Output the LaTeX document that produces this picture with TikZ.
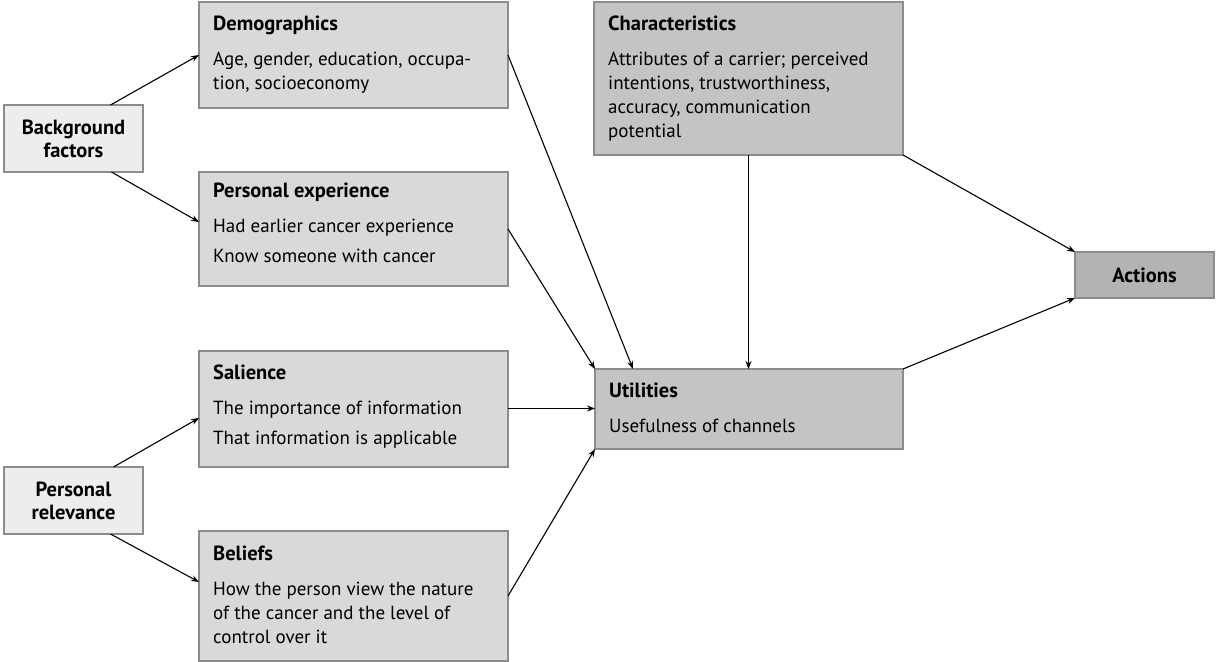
\documentclass[tikz,border=0pt]{standalone}
\usepackage{fontspec}
\setmainfont{PT Sans}
\usetikzlibrary{arrows.meta,calc}
\definecolor{boxlight}{HTML}{EDEDED}
\definecolor{boxmid}{HTML}{D9D9D9}
\definecolor{boxdark}{HTML}{C4C4C4}
\definecolor{boxdarker}{HTML}{B3B3B3}
\definecolor{edgegray}{HTML}{8C8C8C}
\tikzset{
  box/.style={draw=edgegray, line width=1.1bp, anchor=north west, inner sep=0pt, outer sep=0pt},
  txt/.style={anchor=north west, align=left, inner sep=0pt, font=\fontsize{19bp}{24bp}\selectfont},
  ctxt/.style={align=center, inner sep=0pt, font=\fontsize{20.5bp}{23bp}\selectfont\bfseries},
  arr/.style={line width=1.1bp, -{Stealth[length=8bp,width=6bp]}}
}
\newcommand{\ttl}[1]{\rule{0pt}{20bp}{\fontsize{20.5bp}{24bp}\selectfont\textbf{#1}}}
\begin{document}
\begin{tikzpicture}[x=1bp,y=-1bp]
\useasboundingbox (0,0) rectangle (1217,662);
% boxes
\node[box, fill=boxlight, minimum width=139bp, minimum height=67bp] (bf) at (4,105) {};
\node[box, fill=boxlight, minimum width=139bp, minimum height=67bp] (pr) at (4,467) {};
\node[box, fill=boxmid, minimum width=309bp, minimum height=106bp] (demo) at (199,2) {};
\node[box, fill=boxmid, minimum width=309bp, minimum height=114bp] (pe) at (199,172) {};
\node[box, fill=boxmid, minimum width=309bp, minimum height=116bp] (sal) at (199,351) {};
\node[box, fill=boxmid, minimum width=309bp, minimum height=130bp] (bel) at (199,531) {};
\node[box, fill=boxdark, minimum width=309bp, minimum height=153bp] (char) at (594,2) {};
\node[box, fill=boxdark, minimum width=308bp, minimum height=80bp] (util) at (595,369) {};
\node[box, fill=boxdarker, minimum width=139bp, minimum height=46bp] (act) at (1075,252) {};
% texts
\node[ctxt] (bft) at (bf.center) {Background\\factors};
\node[ctxt] (prt) at (pr.center) {Personal\\relevance};
\node[ctxt] (actt) at (act.center) {Actions};
\node[txt] (demot) at ($(demo.north west)+(14,8)$) {\ttl{Demographics}\\[11bp]Age, gender, education, occupa-\\tion, socioeconomy};
\node[txt] (pet) at ($(pe.north west)+(14,5)$) {\ttl{Personal experience}\\[11bp]Had earlier cancer experience\\[6bp]Know someone with cancer};
\node[txt] (salt) at ($(sal.north west)+(14,8)$) {\ttl{Salience}\\[11bp]The importance of information\\[6bp]That information is applicable};
\node[txt] (belt) at ($(bel.north west)+(14,9)$) {\ttl{Beliefs}\\[11bp]How the person view the nature\\of the cancer and the level of\\control over it};
\node[txt] (chart) at ($(char.north west)+(14,8)$) {\ttl{Characteristics}\\[11bp]Attributes of a carrier; perceived\\intentions, trustworthiness,\\accuracy, communication\\potential};
\node[txt] (utilt) at ($(util.north west)+(14,8)$) {\ttl{Utilities}\\[11bp]Usefulness of channels};
% connectors
\draw[arr] ([xshift=37bp]bf.north) -- (demo.west);
\draw[arr] ([xshift=38bp]bf.south) -- ([yshift=7bp]pe.west);
\draw[arr] ([xshift=40bp]pr.north) -- ([yshift=-9bp]sal.west);
\draw[arr] ([xshift=37bp]pr.south) -- ([yshift=14bp]bel.west);
\draw[arr] (demo.east) -- ([xshift=-116bp]util.north);
\draw[arr] (pe.east) -- (util.north west);
\draw[arr] ([yshift=0.5bp]sal.east) -- ([yshift=0.5bp]sal.east -| util.west);
\draw[arr] (bel.east) -- (util.south west);
\draw[arr] (char.south) -- (char.south |- util.north);
\draw[arr] (char.south east) -- (act.north west);
\draw[arr] (util.north east) -- (act.south west);
\end{tikzpicture}
\end{document}
